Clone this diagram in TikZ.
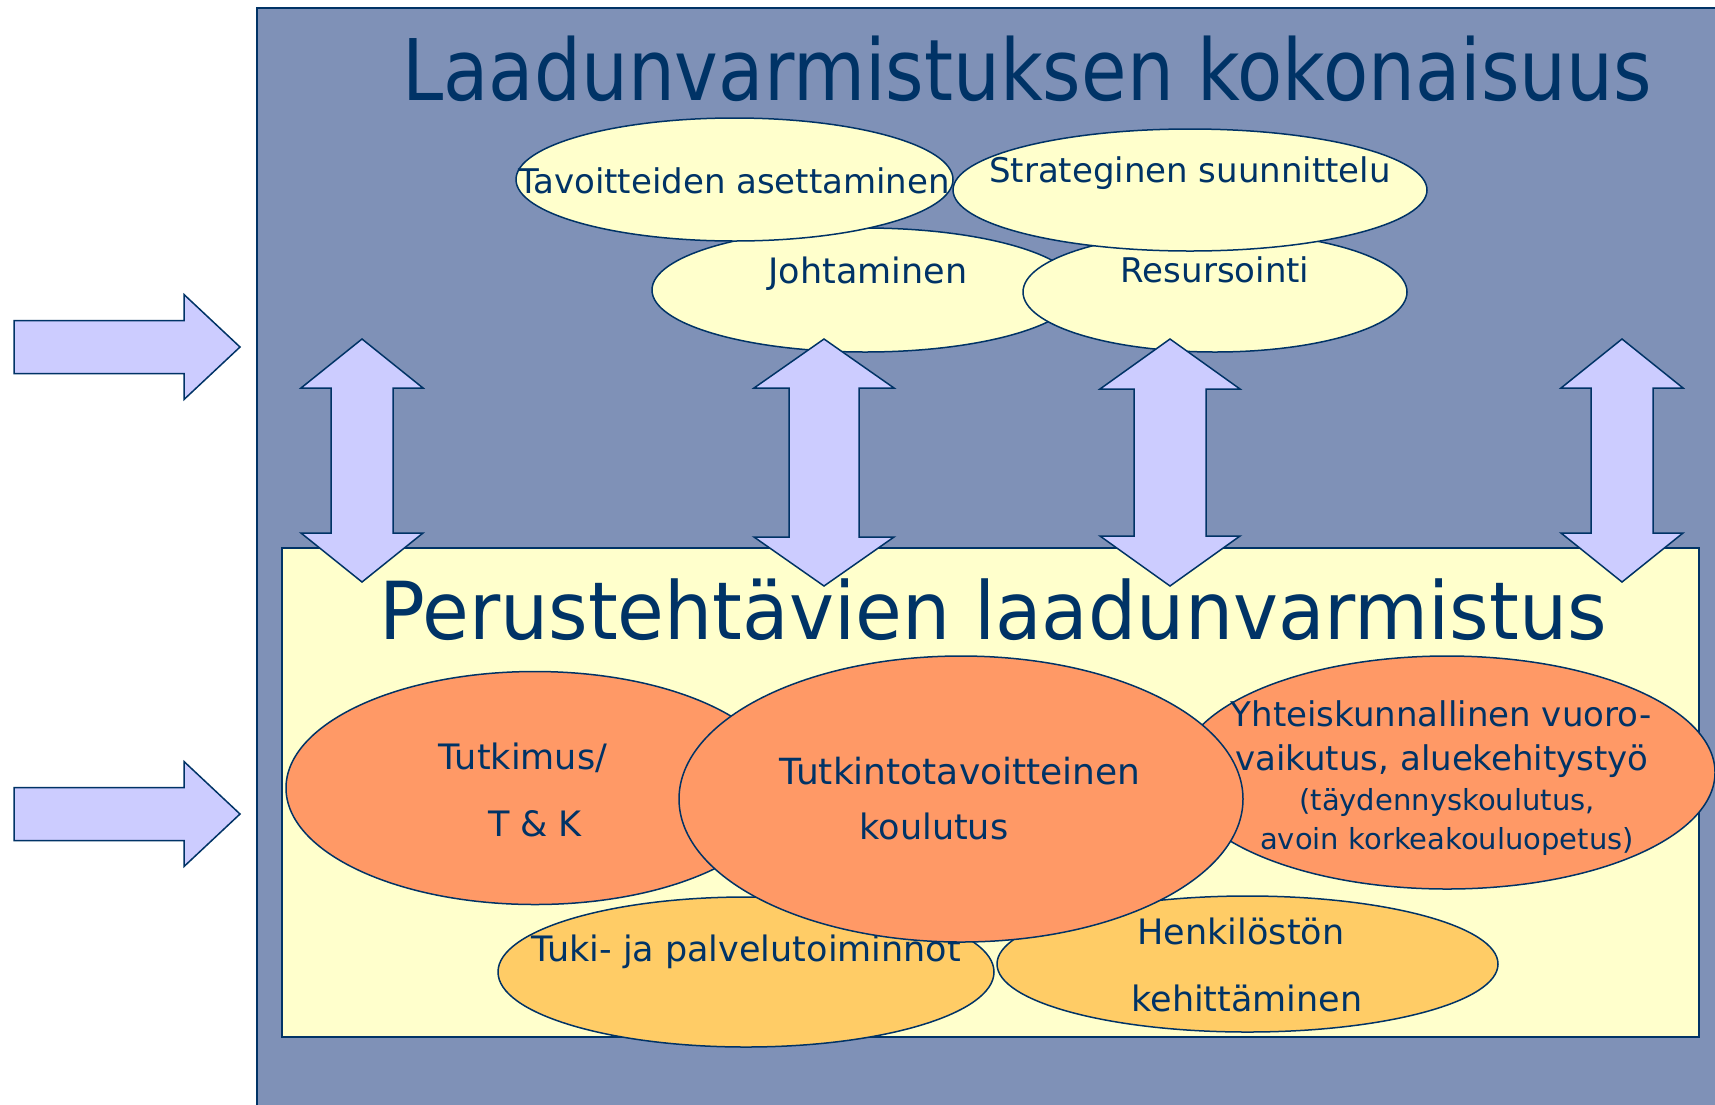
\documentclass[tikz,border=0pt]{standalone}
\usepackage{fontspec}
\setmainfont{DejaVu Sans}[FakeStretch=0.87]
\newfontfamily\plainfont{DejaVu Sans}
\newfontfamily\titletwofont{DejaVu Sans}[FakeStretch=0.95]
\usetikzlibrary{shapes.geometric}
\definecolor{bgblue}{HTML}{7F91B7}
\definecolor{navy}{HTML}{003366}
\definecolor{paleyellow}{HTML}{FFFFCC}
\definecolor{lavender}{HTML}{CCCCFF}
\definecolor{salmon}{HTML}{FF9966}
\definecolor{apricot}{HTML}{FFCC66}
\newcommand\myDblArrow[6]{% x, ytop, ybot, half head, half shaft, head length
  \draw[blockarrow] (#1,#2) -- ({#1+#4},{#2+#6}) -- ({#1+#5},{#2+#6}) -- ({#1+#5},{#3-#6})
    -- ({#1+#4},{#3-#6}) -- (#1,#3) -- ({#1-#4},{#3-#6}) -- ({#1-#5},{#3-#6})
    -- ({#1-#5},{#2+#6}) -- ({#1-#4},{#2+#6}) -- cycle;}
\newcommand\myRightArrow[1]{% y centre
  \draw[blockarrow] (14,{#1-26.5}) -- (184,{#1-26.5}) -- (184,{#1-52.5}) -- (240,#1)
    -- (184,{#1+52.5}) -- (184,{#1+26.5}) -- (14,{#1+26.5}) -- cycle;}
\newcommand\fs[1]{\fontsize{#1}{#1}\selectfont}
\newcommand\ps[1]{\plainfont\fontsize{#1}{#1}\selectfont}
\begin{document}
\begin{tikzpicture}[x=1pt,y=-1pt,
  oval/.style={ellipse, draw=navy, line width=1.5pt, inner sep=0pt},
  topoval/.style={oval, fill=paleyellow},
  mainoval/.style={oval, fill=salmon},
  sideoval/.style={oval, fill=apricot},
  txt/.style={text=navy, anchor=base, inner sep=0pt},
  blockarrow/.style={fill=lavender, draw=navy, line width=1.5pt, line join=miter}]
\fill[white] (0,0) rectangle (1715,1104);
\useasboundingbox (0,0) rectangle (1715,1104);
% outer frame
\node[name=outer, draw=navy, fill=bgblue, line width=2pt, rectangle, anchor=north west,
  minimum width=1480pt, minimum height=1120pt, inner sep=0pt] at (256,7) {};
\node[txt, name=title1] at (1027,100) {\fs{85}Laadunvarmistuksen kokonaisuus};
% top ellipses
\node[topoval, name=johto, minimum width=426pt, minimum height=124pt] at (865,290) {};
\node[topoval, name=resurs, minimum width=384pt, minimum height=120pt] at (1215,292) {};
\node[topoval, name=tavoit, minimum width=437pt, minimum height=123pt] at (734.5,179.5) {};
\node[topoval, name=strat, minimum width=474pt, minimum height=122pt] at (1190,190) {};
\node[txt, name=tJohto] at (868,283) {\ps{35}Johtaminen};
\node[txt, name=tResurs] at (1215,282) {\ps{34}Resursointi};
\node[txt, name=tTavoit] at (734,193) {\ps{34}Tavoitteiden asettaminen};
\node[txt, name=tStrat] at (1190,182) {\ps{34}Strateginen suunnittelu};
% inner frame
\node[name=inner, draw=navy, fill=paleyellow, line width=2pt, rectangle, anchor=north west,
  minimum width=1417pt, minimum height=489pt, inner sep=0pt] at (281,547) {};
\node[txt, name=title2] at (993,639) {\titletwofont\fontsize{80}{80}\selectfont Perustehtävien laadunvarmistus};
% bottom ellipses
\node[mainoval, name=tutk, minimum width=498pt, minimum height=233pt] at (535,788) {};
\node[txt, name=tTutk1] at (523,769) {\ps{35}Tutkimus/};
\node[txt, name=tTutk2] at (535,836) {\ps{35}T \& K};
\node[mainoval, name=yhteis, minimum width=536pt, minimum height=233pt] at (1447,772.5) {};
\node[txt, name=tYht1] at (1441,726) {\ps{34}Yhteiskunnallinen vuoro-};
\node[txt, name=tYht2] at (1442,770) {\ps{34}vaikutus, aluekehitystyö};
\node[txt, name=tYht3] at (1447,810) {\ps{29}(täydennyskoulutus,};
\node[txt, name=tYht4] at (1447,849) {\ps{29}avoin korkeakouluopetus)};
\node[sideoval, name=tuki, minimum width=496pt, minimum height=150pt] at (746,972) {};
\node[txt, name=tTuki] at (746,961) {\ps{35}Tuki- ja palvelutoiminnot};
\node[sideoval, name=henk, minimum width=501pt, minimum height=136pt] at (1247.5,964) {};
\node[txt, name=tHenk1] at (1241,944) {\ps{35}Henkilöstön};
\node[txt, name=tHenk2] at (1247,1011) {\ps{35}kehittäminen};
\node[mainoval, name=koul, minimum width=564pt, minimum height=286pt] at (961,799) {};
\node[txt, name=tKoul1] at (960,784) {\ps{36}Tutkintotavoitteinen};
\node[txt, name=tKoul2] at (934,839) {\ps{35}koulutus};
% vertical double arrows
\myDblArrow{362}{339}{582}{61}{31}{49}
\myDblArrow{824}{339}{586}{70}{35}{49}
\myDblArrow{1170}{339}{586}{70}{36}{50}
\myDblArrow{1622}{339}{582}{61}{31}{49}
% left arrows
\myRightArrow{347}
\myRightArrow{814}
\end{tikzpicture}
\end{document}
